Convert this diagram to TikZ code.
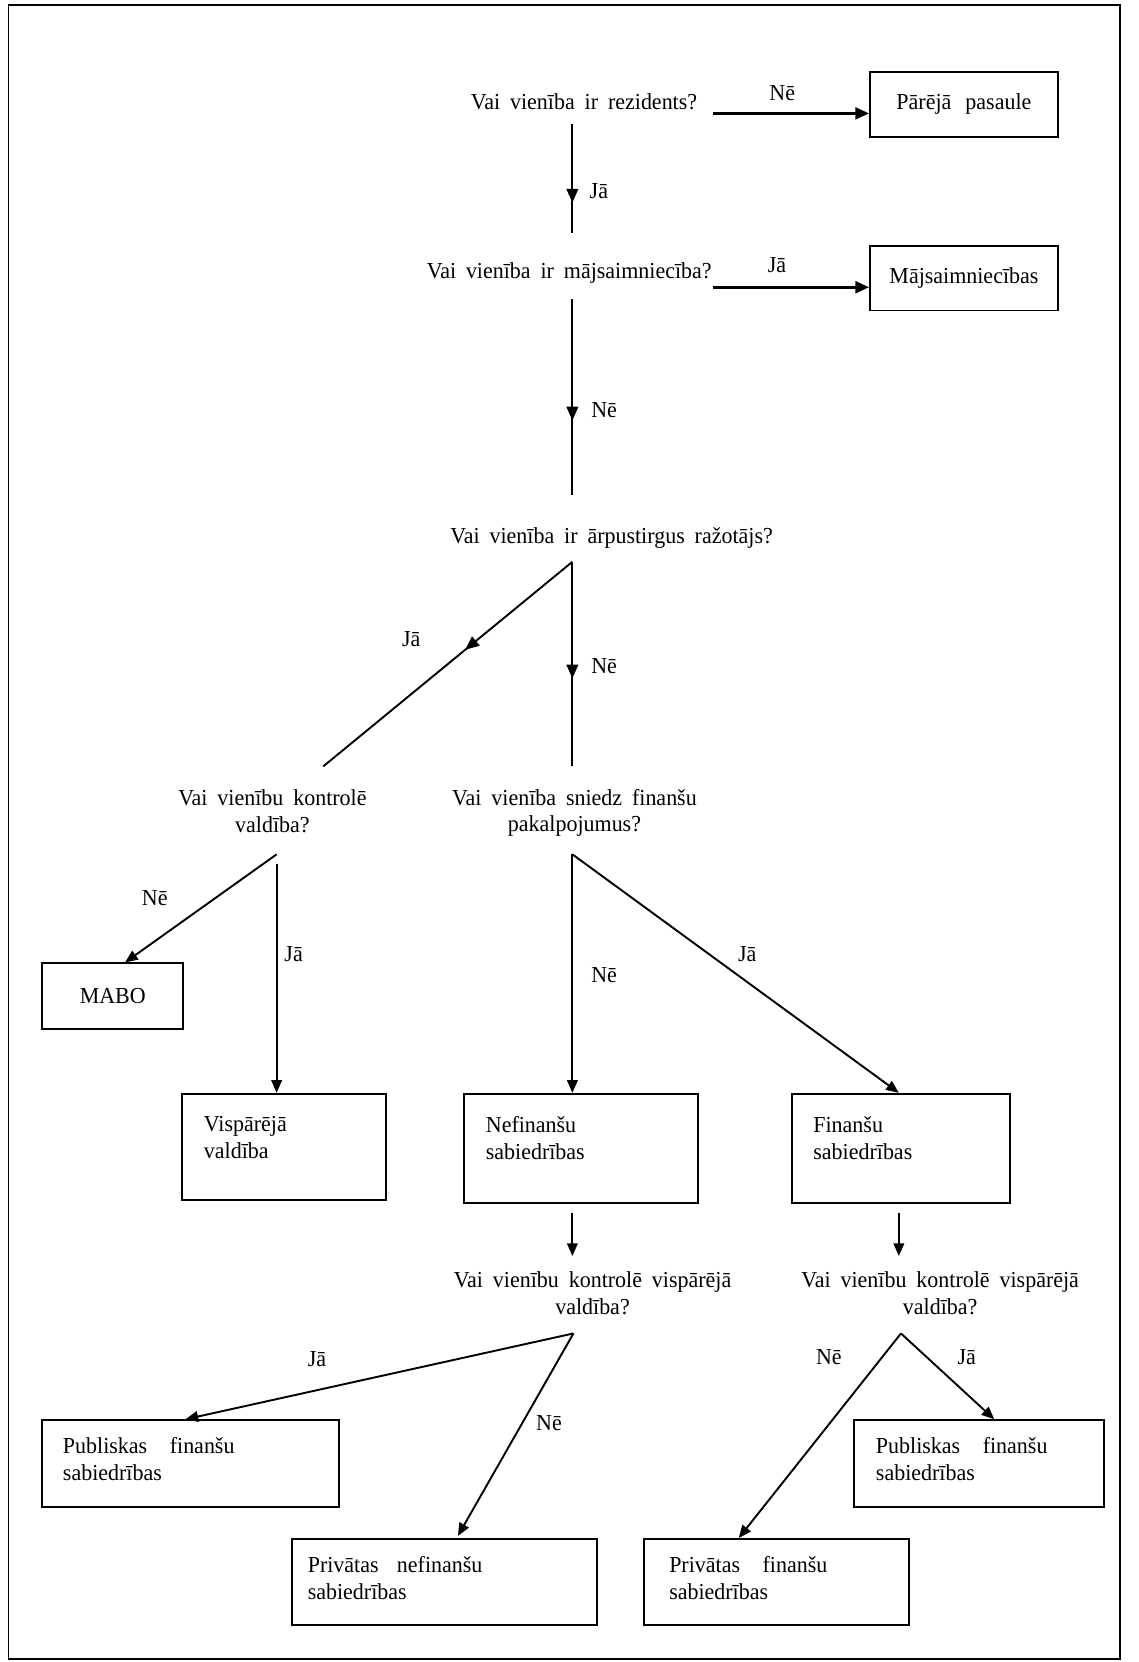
\documentclass[tikz,border=0pt]{standalone}
\usepackage{fontspec}
\setmainfont{Liberation Serif}[FakeStretch=0.96,WordSpace=1.8]
\usetikzlibrary{arrows.meta,decorations.markings,calc}
\tikzset{
  ln/.style={line width=0.9pt},
  arr/.style={ln,-{Triangle[length=6pt,width=5pt]}},
  thickarr/.style={line width=1.4pt,-{Triangle[length=6.5pt,width=5.5pt]}},
  midarr/.style={postaction={decorate},decoration={markings,mark=at position #1 with {\arrow{Triangle[length=6.5pt,width=5.5pt]}}}},
  box/.style={draw,line width=0.9pt,anchor=north west,inner sep=0pt},
  bx/.style 2 args={minimum width=#1*0.5pt,minimum height=#2*0.5pt},
  q/.style={align=center,inner sep=0pt},
  lbl/.style={inner sep=0pt},
  btxt/.style={align=left,anchor=north west,inner sep=0pt},
}
\begin{document}
\begin{tikzpicture}[x=0.5pt,y=-0.5pt,every node/.style={font=\fontsize{10.8}{12.6}\selectfont}]
\useasboundingbox (0,0) rectangle (1074,1568);
\draw[line width=0.9pt] (8,5) rectangle (1057,1565);

% questions
\node[q] (q1) at (551,96) {Vai vienība ir rezidents?};
\node[q] (q2) at (537,258) {Vai vienība ir mājsaimniecība?};
\node[q] (q3) at (577,508) {Vai vienība ir ārpustirgus ražotājs?};
\node[q] (q4) at (257,765) {Vai vienību kontrolē\\valdība?};
\node[q] (q5) at (542,767) {Vai vienība sniedz finanšu\\pakalpojumus?};
\node[q] (q6) at (559,1220) {Vai vienību kontrolē vispārējā\\valdība?};
\node[q] (q7) at (887,1220) {Vai vienību kontrolē vispārējā\\valdība?};

% boxes
\node[box,bx={177}{61}] (pp) at (820,67) {\raisebox{-1.5pt}{Pārējā\hspace{2pt} pasaule}};
\node[box,bx={177}{61}] (mj) at (820,231) {Mājsaimniecības};
\node[box,bx={133}{62}] (mabo) at (39,908) {MABO};
\node[box,bx={192}{100}] (vis) at (171,1031) {};
\node[btxt] (vis-t) at ($(vis.north west)+(21,22)$) {Vispārējā\\valdība};
\node[box,bx={221}{103}] (nef) at (437,1031) {};
\node[btxt] (nef-t) at ($(nef.north west)+(21,22)$) {Nefinanšu\\sabiedrības};
\node[box,bx={206}{103}] (fin) at (746,1031) {};
\node[btxt] (fin-t) at ($(fin.north west)+(21,22)$) {Finanšu\\sabiedrības};
\node[box,bx={280}{82}] (pub1) at (39,1339) {};
\node[btxt] (pub1-t) at ($(pub1.north west)+(20,17)$) {Publiskas\hspace{6pt} finanšu\\sabiedrības};
\node[box,bx={287}{81}] (prn) at (275,1451) {};
\node[btxt] (prn-t) at ($(prn.north west)+(15,17)$) {Privātas\hspace{4pt} nefinanšu\\sabiedrības};
\node[box,bx={250}{81}] (prf) at (607,1451) {};
\node[btxt] (prf-t) at ($(prf.north west)+(24,17)$) {Privātas\hspace{6pt} finanšu\\sabiedrības};
\node[box,bx={236}{82}] (pub2) at (805,1339) {};
\node[btxt] (pub2-t) at ($(pub2.north west)+(21,17)$) {Publiskas\hspace{6pt} finanšu\\sabiedrības};

% connector end points
\coordinate (q1r) at (673,107);
\coordinate (q1d) at (540,117);
\coordinate (q2u) at (540,220);
\coordinate (q2r) at (673,271);
\coordinate (q2d) at (540,282);
\coordinate (q3u) at (540,467);
\coordinate (q3d) at (540,530);
\coordinate (q5u) at (540,723);
\coordinate (q4u) at (305,723);
\coordinate (q4d) at (261,806);
\coordinate (q4v) at (261,815);
\coordinate (q5d) at (540,806);
\coordinate (nefd) at (540,1144);
\coordinate (q6u) at (540,1185);
\coordinate (find) at (848,1144);
\coordinate (q7u) at (848,1185);
\coordinate (q6d) at (541,1258);
\coordinate (q7d) at (850,1258);

% connectors
\draw[thickarr] (q1r) -- (q1r -| pp.west);
\draw[ln,midarr=0.72] (q1d) -- (q2u);
\draw[thickarr] (q2r) -- (q2r -| mj.west);
\draw[ln,midarr=0.62] (q2d) -- (q3u);
\draw[ln,midarr=0.57] (q3d) -- (q5u);
\draw[ln,midarr=0.43] (q3d) -- (q4u);
\draw[arr] (q4d) -- ($(mabo.north west)+(79,0)$);
\draw[arr] (q4v) -- (q4v |- vis.north);
\draw[arr] (q5d) -- (q5d |- nef.north);
\draw[arr] (q5d) -- ($(fin.north west)+(102,0)$);
\draw[arr] (nefd) -- (q6u);
\draw[arr] (find) -- (q7u);
\draw[arr] (q6d) -- ($(pub1.north west)+(136,0)$);
\draw[arr] (q6d) -- ($(prn.north west)+(157,-2)$);
\draw[arr] (q7d) -- ($(prf.north west)+(90,0)$);
\draw[arr] (q7d) -- ($(pub2.north west)+(133,0)$);

% labels
\node[lbl] (l1) at (738,88) {Nē};
\node[lbl] (l2) at (565,180) {Jā};
\node[lbl] (l3) at (733,250) {Jā};
\node[lbl] (l4) at (570,387) {Nē};
\node[lbl] (l5) at (388,603) {Jā};
\node[lbl] (l6) at (570,628) {Nē};
\node[lbl] (l7) at (146,847) {Nē};
\node[lbl] (l8) at (277,900) {Jā};
\node[lbl] (l9) at (570,920) {Nē};
\node[lbl] (l10) at (705,900) {Jā};
\node[lbl] (l11) at (299,1282) {Jā};
\node[lbl] (l12) at (518,1343) {Nē};
\node[lbl] (l13) at (782,1280) {Nē};
\node[lbl] (l14) at (912,1280) {Jā};
\end{tikzpicture}
\end{document}
